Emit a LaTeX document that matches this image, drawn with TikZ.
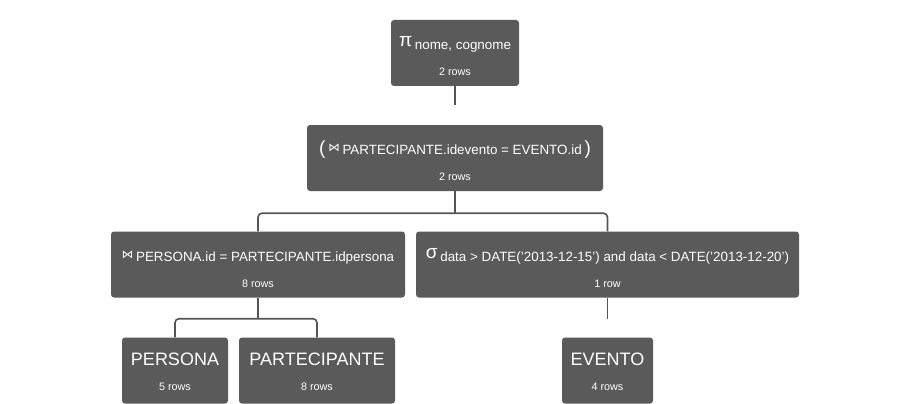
\documentclass[tikz,border=0pt]{standalone}
\usepackage{fontspec}
\setmainfont{Liberation Sans}
\newfontfamily\symfont{DejaVu Sans}
\usetikzlibrary{positioning}
\definecolor{boxgray}{HTML}{5A5A5A}
\definecolor{linegray}{HTML}{555555}
\tikzset{
  opbox/.style={fill=boxgray, rounded corners=3pt, text=white, align=center,
    minimum height=66pt, inner sep=0pt},
  link/.style={draw=linegray, line width=1.6pt, rounded corners=4pt},
}
\newcommand{\opsym}[1]{{\fontsize{19}{20}\selectfont #1}}
\newcommand{\optxt}[1]{{\fontsize{13.4}{15}\selectfont #1}}
\newcommand{\bowt}{\raisebox{3pt}{{\symfont\fontsize{11.5}{12}\selectfont ⋈}}}
\newcommand{\sq}{\char39\relax}
\newcommand{\nrows}[1]{\rule{0pt}{20pt}\\[14pt]{\fontsize{10.8}{12}\selectfont #1}}
\newcommand{\tbl}[2]{{\fontsize{18}{20}\selectfont #1}\rule{0pt}{16pt}\\[13pt]{\fontsize{10.8}{12}\selectfont #2}}

\begin{document}
\begin{tikzpicture}[x=1pt, y=-1pt]
  \useasboundingbox (0,0) rectangle (911,404);
  % operator tree
  \node[opbox, minimum width=128pt] (proj) at (455,53)
    {\raisebox{3pt}{\opsym{π}} \optxt{nome, cognome}\nrows{2 rows}};
  \node[opbox, minimum width=296pt] (join) at (455,158)
    {\opsym{(} \bowt\ \optxt{PARTECIPANTE.idevento = EVENTO.id} \opsym{)}\nrows{2 rows}};
  \node[opbox, minimum width=294pt] (pjoin) at (258,264.5)
    {\bowt\ \optxt{PERSONA.id = PARTECIPANTE.idpersona}\nrows{8 rows}};
  \node[opbox, minimum width=383pt] (sel) at (607.5,264.5)
    {\raisebox{3pt}{\opsym{σ}} \optxt{data > DATE(\sq2013-12-15\sq) and data < DATE(\sq2013-12-20\sq)}\nrows{1 row}};
  \node[opbox, minimum width=106pt] (persona) at (175,370.5) {\tbl{PERSONA}{5 rows}};
  \node[opbox, minimum width=156pt] (part) at (317,370.5) {\tbl{PARTECIPANTE}{8 rows}};
  \node[opbox, minimum width=91pt] (evento) at (607.5,370.5) {\tbl{EVENTO}{4 rows}};

  % links
  \coordinate (projend) at ([yshift=-19pt]proj.south);
  \draw[link] (proj.south) -- (projend);
  \coordinate (joinmid) at ([yshift=-22pt]join.south);
  \draw[link] (join.south) -- (joinmid);
  \draw[link] (pjoin.north) |- (joinmid) -| (sel.north);
  \coordinate (pjoinmid) at ([yshift=-21pt]pjoin.south);
  \draw[link] (pjoin.south) -- (pjoinmid);
  \draw[link] (persona.north) |- (pjoinmid) -| (part.north);
  \coordinate (selend) at ([yshift=-21pt]sel.south);
  \draw[link] (sel.south) -- (selend);
\end{tikzpicture}
\end{document}
